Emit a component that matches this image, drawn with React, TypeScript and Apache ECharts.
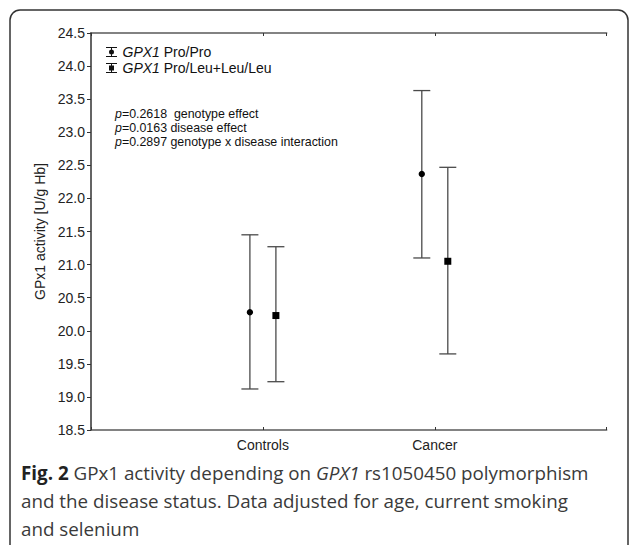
import React, { useEffect, useRef } from "react";
import * as echarts from "echarts";

const categories = ["Controls", "Cancer"];
const seriesNames = ["GPX1 Pro/Pro", "GPX1 Pro/Leu+Leu/Leu"];
const proMean = [20.28, 22.37];
const proLow = [19.12, 21.1];
const proHigh = [21.45, 23.63];
const leuMean = [20.23, 21.05];
const leuLow = [19.23, 19.65];
const leuHigh = [21.27, 22.47];
const yMin = 18.5;
const yMax = 24.5;
const yStep = 0.5;
const pValues = ["0.2618", "0.0163", "0.2897"];
const pEffects = ["  genotype effect", " disease effect", " genotype x disease interaction"];
const yAxisTitle = "GPx1 activity [U/g Hb]";
const captionLines = [
  "{b|Fig. 2} GPx1 activity depending on {i|GPX1} rs1050450 polymorphism",
  "and the disease status. Data adjusted for age, current smoking",
  "and selenium",
];

const FONT = "'Liberation Sans', Arial, sans-serif";
const CAP_FONT = "'Open Sans', sans-serif";
const CAP_SIZE = 18.8;

const iconCircle =
  "path://M0,0H11V1H0Z M5,1H6V9H5Z M0,9H11V10H0Z M8,5A2.5,2.5 0 1,1 3,5A2.5,2.5 0 1,1 8,5Z";
const iconSquare =
  "path://M0,0H11V1H0Z M5,1H6V9H5Z M0,9H11V10H0Z M3,2.5H8V7.5H3Z";

function makeSeries(name: string, mean: number[], low: number[], high: number[], offset: number, marker: "circle" | "square") {
  return {
    type: "custom",
    name,
    xAxisIndex: 0,
    yAxisIndex: 0,
    data: categories.map((_, i) => [i + 1, mean[i], low[i], high[i]]),
    renderItem: (params: any, api: any) => {
      const xi = api.value(0);
      const m = api.coord([xi, api.value(1)]);
      const lo = api.coord([xi, api.value(2)]);
      const hi = api.coord([xi, api.value(3)]);
      const x = m[0] + offset;
      const lineStyle = { stroke: "#4a4a4a", lineWidth: 1.3 };
      const children: any[] = [
        { type: "line", shape: { x1: x, y1: hi[1], x2: x, y2: lo[1] }, style: lineStyle },
        { type: "line", shape: { x1: x - 8.5, y1: hi[1], x2: x + 8.5, y2: hi[1] }, style: lineStyle },
        { type: "line", shape: { x1: x - 8.5, y1: lo[1], x2: x + 8.5, y2: lo[1] }, style: lineStyle },
      ];
      if (marker === "circle") {
        children.push({ type: "circle", shape: { cx: x, cy: m[1], r: 3.2 }, style: { fill: "#000" } });
      } else {
        children.push({ type: "rect", shape: { x: x - 3.5, y: m[1] - 3.5, width: 7, height: 7 }, style: { fill: "#000" } });
      }
      return { type: "group", children };
    },
  };
}

export default function App() {
  const ref = useRef<HTMLDivElement>(null);
  useEffect(() => {
    if (!ref.current) return;
    const chart = echarts.init(ref.current, null, { renderer: "svg" });
    const axisLine = { show: true, lineStyle: { color: "#5a5a5a", width: 1.5 } };
    const option: any = {
      animation: false,
      backgroundColor: "#fff",
      grid: { left: 91, top: 33, right: 22.3, bottom: 115 },
      legend: {
        orient: "vertical",
        left: 101,
        top: 40,
        itemWidth: 12,
        itemHeight: 10,
        itemGap: 2,
        selectedMode: false,
        data: [
          { name: seriesNames[0], icon: iconCircle },
          { name: seriesNames[1], icon: iconSquare },
        ],
        formatter: (n: string) => "{i|" + n.slice(0, 4) + "}{t|" + n.slice(4) + "}",
        textStyle: {
          color: "#111",
          fontFamily: FONT,
          fontSize: 14,
          lineHeight: 14,
          rich: {
            i: { fontStyle: "italic", fontSize: 14, fontFamily: FONT, color: "#111" },
            t: { fontSize: 14, fontFamily: FONT, color: "#111" },
          },
        },
        itemStyle: { color: "#111" },
      },
      xAxis: [
        {
          type: "value",
          position: "bottom",
          min: 0,
          max: 3,
          interval: 1,
          axisLine,
          splitLine: { show: false },
          axisTick: { show: true, inside: true, length: 3, lineStyle: { color: "#333" } },
          axisLabel: {
            margin: 8,
            fontFamily: FONT,
            fontSize: 14,
            color: "#222",
            formatter: (v: number) => categories[v - 1] ?? "",
          },
        },
        {
          type: "value",
          position: "top",
          min: 0,
          max: 3,
          interval: 1,
          axisLine,
          splitLine: { show: false },
          axisTick: { show: true, inside: true, length: 3, lineStyle: { color: "#333" } },
          axisLabel: { show: false },
        },
      ],
      yAxis: [
        {
          type: "value",
          position: "left",
          min: yMin,
          max: yMax,
          interval: yStep,
          axisLine,
          splitLine: { show: false },
          axisTick: { show: true, inside: false, length: 4, lineStyle: { color: "#333" } },
          axisLabel: {
            margin: 6,
            fontFamily: FONT,
            fontSize: 14,
            color: "#222",
            formatter: (v: number) => v.toFixed(1),
          },
          name: yAxisTitle,
          nameLocation: "middle",
          nameGap: 42,
          nameTextStyle: { fontFamily: FONT, fontSize: 14, color: "#222" },
        },
        {
          type: "value",
          position: "right",
          min: yMin,
          max: yMax,
          interval: yStep,
          axisLine,
          splitLine: { show: false },
          axisTick: { show: true, inside: true, length: 3, lineStyle: { color: "#333" } },
          axisLabel: { show: false },
        },
      ],
      series: [
        makeSeries(seriesNames[0], proMean, proLow, proHigh, -13, "circle"),
        makeSeries(seriesNames[1], leuMean, leuLow, leuHigh, 13, "square"),
      ],
      graphic: [
        {
          type: "rect",
          shape: { x: 10, y: 10, width: 618, height: 600, r: 10 },
          style: { fill: "none", stroke: "#333", lineWidth: 1.5 },
          silent: true,
        },
        ...pValues.map((p, i) => ({
          type: "text",
          x: 115,
          y: 114 + i * 13.9,
          style: {
            text: "{i|p}{t|=" + p + pEffects[i] + "}",
            verticalAlign: "middle",
            font: "12.4px " + FONT,
            fill: "#111",
            rich: {
              i: { fontStyle: "italic", fontSize: 12.4, fontFamily: FONT, fill: "#111" },
              t: { fontSize: 12.4, fontFamily: FONT, fill: "#111" },
            },
          },
        })),
        ...captionLines.map((line, i) => ({
          type: "text",
          x: 21,
          y: 473 + i * 28,
          style: {
            text: line,
            verticalAlign: "middle",
            font: CAP_SIZE + "px " + CAP_FONT,
            fill: "#3a3a3a",
            rich: {
              b: { fontWeight: "bold", fontSize: CAP_SIZE, fontFamily: CAP_FONT, fill: "#222" },
              i: { fontStyle: "italic", fontSize: CAP_SIZE, fontFamily: CAP_FONT, fill: "#3a3a3a" },
            },
          },
        })),
      ],
    };
    chart.setOption(option);
    return () => chart.dispose();
  }, []);
  return (
    <div
      ref={ref}
      style={{ position: "fixed", left: 0, top: 0, width: 629, height: 545 }}
    />
  );
}
